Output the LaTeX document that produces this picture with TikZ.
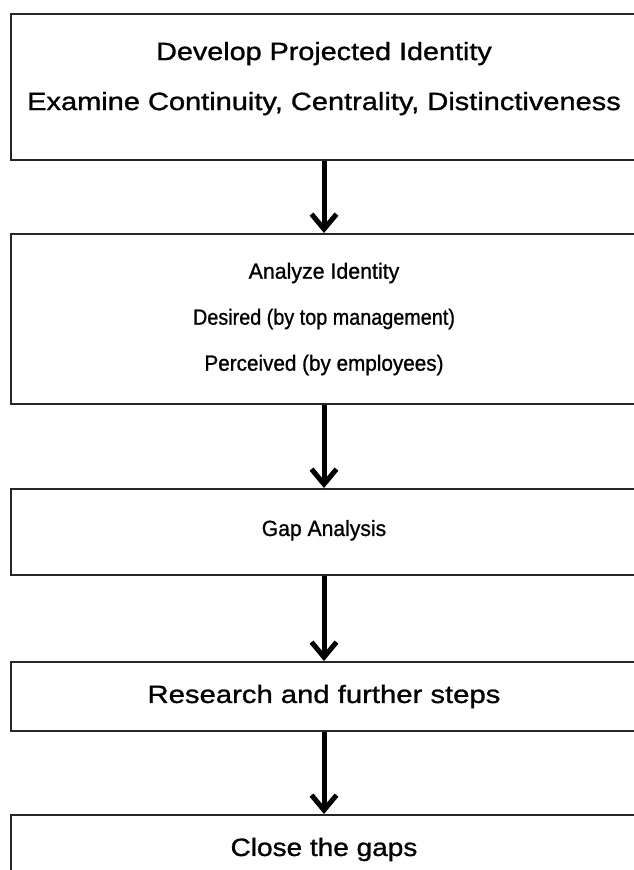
\documentclass[tikz,border=0pt]{standalone}
\usepackage{graphicx}
\usepackage{fontspec}
\newfontface\diagface{Liberation Sans}[FakeBold=1]
\usetikzlibrary{arrows.meta, positioning}
\tikzset{
    stage_box/.style={
        rectangle, draw=black!85, line width=2pt, fill=white,
        minimum width=626pt, anchor=north west,
        align=center, font=\diagface\fontsize{25}{29}\selectfont
    },
    small_text/.style={font=\diagface\fontsize{22}{26}\selectfont},
    flow_arrow/.style={
        -{Straight Barb[length=15pt, width=25pt]}, line width=5pt, draw=black
    }
}
% horizontal stretch of one text line
\newcommand{\wline}[2]{\scalebox{#1}[1]{#2}}

\begin{document}
\begin{tikzpicture}[x=1pt, y=-1pt]

    \useasboundingbox (0,0) rectangle (633,870);

    % --- Stage 1: projected identity ---
    \node[stage_box, minimum height=146pt] (develop) at (10,13) {
        \wline{1.15}{Develop Projected Identity}\\[21pt]
        \wline{1.16}{Examine Continuity, Centrality, Distinctiveness}\rule[-22pt]{0pt}{0pt}
    };

    % --- Stage 2: identity analysis ---
    \node[stage_box, small_text, minimum height=170pt] (analyze) at (10,233) {
        \wline{0.97}{Analyze Identity}\\[20pt]
        \wline{0.9}{Desired (by top management)}\\[20pt]
        \wline{0.94}{Perceived (by employees)}
    };

    % --- Stage 3 to 5 ---
    \node[stage_box, small_text, minimum height=86pt] (gap) at (10,488) {\wline{0.96}{Gap Analysis}\rule[-8pt]{0pt}{0pt}};
    \node[stage_box, minimum height=69pt] (research) at (10,661) {\wline{1.17}{Research and further steps}};
    \node[stage_box, minimum height=69pt] (close) at (10,814) {\wline{1.12}{Close the gaps}};

    % --- Flow Arrows ---
    \draw[flow_arrow] (develop.south) -- (analyze.north);
    \draw[flow_arrow] (analyze.south) -- (gap.north);
    \draw[flow_arrow] (gap.south) -- (research.north);
    \draw[flow_arrow] (research.south) -- (close.north);

\end{tikzpicture}
\end{document}
